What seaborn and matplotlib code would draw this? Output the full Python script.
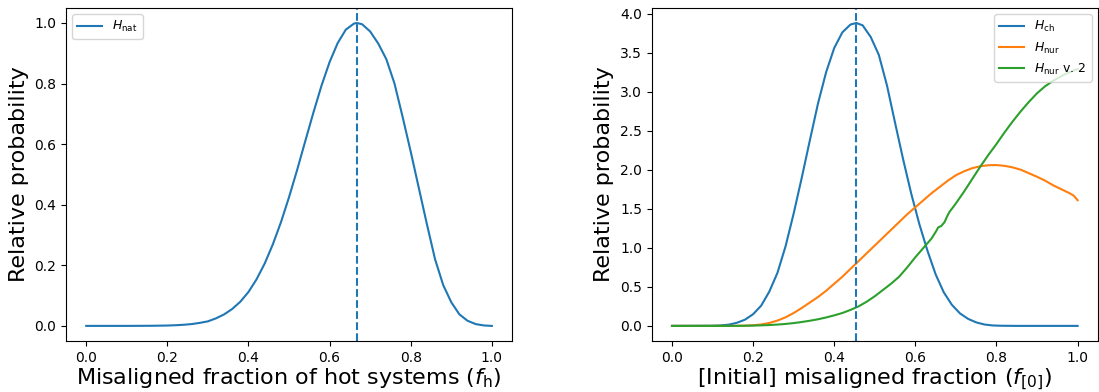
import matplotlib
matplotlib.use("Agg")
import matplotlib.pyplot as plt
import seaborn as sns

# left panel: H_nat
f_hot = [0.0, 0.1, 0.16, 0.2, 0.22, 0.24, 0.26, 0.28, 0.30, 0.32, 0.34, 0.36,
         0.38, 0.40, 0.42, 0.44, 0.46, 0.48, 0.50, 0.52, 0.54, 0.56, 0.58,
         0.60, 0.62, 0.64, 0.66, 0.667, 0.68, 0.70, 0.72, 0.74, 0.76, 0.78,
         0.80, 0.82, 0.84, 0.86, 0.88, 0.90, 0.92, 0.94, 0.96, 0.98, 1.0]
h_nat = [0.0, 0.0, 0.0004, 0.0012, 0.0022, 0.0037, 0.006, 0.010, 0.015, 0.025,
         0.038, 0.056, 0.080, 0.112, 0.154, 0.206, 0.269, 0.342, 0.425, 0.515,
         0.610, 0.704, 0.793, 0.871, 0.934, 0.978, 0.998, 1.0, 0.996, 0.972,
         0.932, 0.88, 0.80, 0.69, 0.575, 0.455, 0.335, 0.22, 0.135, 0.078,
         0.038, 0.017, 0.006, 0.0015, 0.0]
f_hot_best = 0.667

# right panel
f_init = [0.0, 0.10, 0.12, 0.14, 0.16, 0.18, 0.20, 0.22, 0.24, 0.26, 0.28,
          0.30, 0.32, 0.34, 0.36, 0.38, 0.40, 0.42, 0.44, 0.4545, 0.47, 0.49,
          0.51, 0.53, 0.55, 0.57, 0.59, 0.61, 0.63, 0.65, 0.67, 0.69, 0.71,
          0.73, 0.75, 0.77, 0.79, 0.81, 0.85, 1.0]
h_ch = [0.0, 0.002, 0.006, 0.016, 0.04, 0.08, 0.15, 0.26, 0.44, 0.68, 1.02,
        1.44, 1.90, 2.38, 2.85, 3.25, 3.56, 3.76, 3.86, 3.88, 3.85, 3.70,
        3.47, 3.08, 2.60, 2.13, 1.69, 1.30, 0.96, 0.66, 0.43, 0.27, 0.16,
        0.09, 0.045, 0.018, 0.006, 0.002, 0.0, 0.0]
f_init_best = 0.4545

f_nur = [0.0, 0.14, 0.16, 0.18, 0.20, 0.22, 0.24, 0.26, 0.28, 0.30, 0.32,
         0.34, 0.36, 0.38, 0.40, 0.42, 0.44, 0.46, 0.48, 0.50, 0.52, 0.54,
         0.56, 0.58, 0.60, 0.62, 0.64, 0.66, 0.68, 0.70, 0.72, 0.74, 0.76,
         0.78, 0.80, 0.82, 0.84, 0.86, 0.88, 0.90, 0.92, 0.94, 0.96, 0.98,
         0.99, 1.0]
h_nur = [0.0, 0.0, 0.001, 0.003, 0.008, 0.018, 0.038, 0.068, 0.11, 0.165, 0.23,
         0.30, 0.37, 0.45, 0.54, 0.63, 0.73, 0.83, 0.93, 1.03, 1.13, 1.23,
         1.33, 1.43, 1.52, 1.61, 1.70, 1.78, 1.86, 1.93, 1.98, 2.02, 2.045,
         2.058, 2.06, 2.05, 2.03, 2.00, 1.955, 1.91, 1.86, 1.80, 1.75, 1.70,
         1.67, 1.61]

f_nur2 = [0.0, 0.14, 0.16, 0.18, 0.20, 0.22, 0.24, 0.26, 0.28, 0.30, 0.32,
          0.34, 0.36, 0.38, 0.40, 0.42, 0.44, 0.46, 0.48, 0.50, 0.52, 0.54,
          0.56, 0.58, 0.60, 0.62, 0.64, 0.652, 0.656, 0.664, 0.672, 0.678,
          0.684, 0.69, 0.70, 0.72, 0.74, 0.76, 0.78, 0.80, 0.82, 0.84, 0.86,
          0.88, 0.90, 0.92, 0.94, 0.96, 0.98, 1.0]
h_nur2 = [0.0, 0.0, 0.001, 0.002, 0.004, 0.007, 0.011, 0.017, 0.025, 0.036,
          0.05, 0.066, 0.085, 0.108, 0.135, 0.165, 0.205, 0.25, 0.31, 0.38,
          0.46, 0.54, 0.63, 0.75, 0.88, 1.00, 1.12, 1.22, 1.26, 1.28, 1.33,
          1.40, 1.46, 1.50, 1.57, 1.72, 1.88, 2.04, 2.19, 2.33, 2.48, 2.62,
          2.75, 2.87, 2.98, 3.07, 3.14, 3.20, 3.25, 3.29]

fig = plt.figure(figsize=(10.99, 3.92), dpi=100)
ax1 = fig.add_axes([0.060, 0.130, 0.406, 0.850])
ax2 = fig.add_axes([0.593, 0.130, 0.406, 0.850])

sns.lineplot(x=f_hot, y=h_nat, ax=ax1, color="C0", label=r"$H_{\rm nat}$")
ax1.axvline(f_hot_best, ls="--", color="C0")
ax1.set_xlabel(r"Misaligned fraction of hot systems ($f_{\rm h}$)", fontsize=16, labelpad=1)
ax1.set_ylabel("Relative probability", fontsize=16)
ax1.legend(loc="upper left", fontsize=9)

sns.lineplot(x=f_init, y=h_ch, ax=ax2, color="C0", label=r"$H_{\rm ch}$")
sns.lineplot(x=f_nur, y=h_nur, ax=ax2, color="C1", label=r"$H_{\rm nur}$")
sns.lineplot(x=f_nur2, y=h_nur2, ax=ax2, color="C2", label=r"$H_{\rm nur}$ v. 2")
ax2.axvline(f_init_best, ls="--", color="C0")
ax2.set_xlabel(r"[Initial] misaligned fraction ($f_{[0]}$)", fontsize=16, labelpad=1)
ax2.set_ylabel("Relative probability", fontsize=16)
ax2.legend(loc="upper right", fontsize=9)

fig.savefig("out.png", dpi=100)
